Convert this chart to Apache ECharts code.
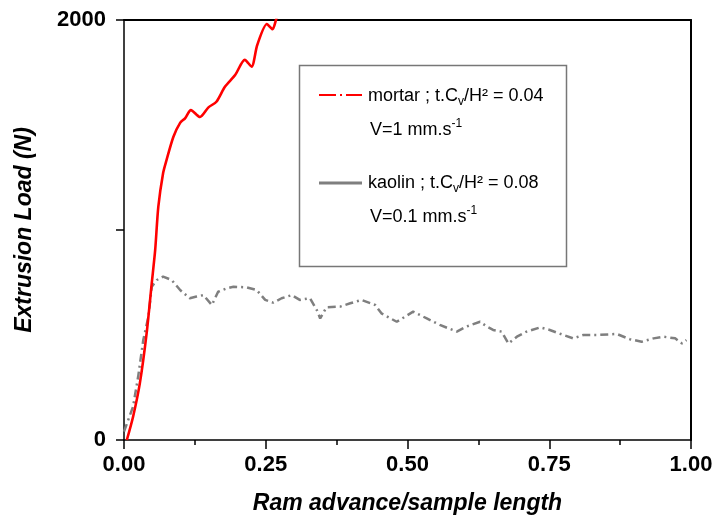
<!DOCTYPE html>
<html>
<head>
<meta charset="utf-8">
<script src="https://cdn.jsdelivr.net/npm/echarts@6/dist/echarts.min.js"></script>
<style>
  html, body { margin: 0; padding: 0; background: #fff; }
  #chart { width: 722px; height: 520px; }
</style>
</head>
<body>
<div id="chart"></div>
<script>
// mortar, t.Cv/H² = 0.04, V = 1 mm/s
const mortarX = [0.005, 0.016, 0.028, 0.040, 0.049, 0.055, 0.0605, 0.069, 0.075, 0.087, 0.099, 0.108, 0.118,
  0.134, 0.149, 0.163, 0.178, 0.196, 0.213, 0.225, 0.235, 0.252, 0.262, 0.268, 0.272]
const mortarY = [0, 111, 271, 510, 748, 905, 1110, 1271, 1333, 1443, 1510, 1533, 1571,
  1538, 1584, 1611, 1682, 1738, 1810, 1778, 1881, 1981, 1956, 2000, 2040]

// kaolin, t.Cv/H² = 0.08, V = 0.1 mm/s
const kaolinX = [0, 0.016, 0.025, 0.034, 0.043, 0.049, 0.058, 0.069, 0.084, 0.099, 0.116, 0.128, 0.140, 0.155,
  0.166, 0.181, 0.193, 0.216, 0.234, 0.249, 0.263, 0.278, 0.296, 0.310, 0.328, 0.340, 0.346, 0.357, 0.381,
  0.399, 0.419, 0.443, 0.454, 0.481, 0.510, 0.534, 0.557, 0.587, 0.604, 0.628, 0.640, 0.651, 0.666, 0.678,
  0.693, 0.710, 0.734, 0.751, 0.775, 0.792, 0.810, 0.834, 0.869, 0.892, 0.913, 0.934, 0.951, 0.972, 0.984, 0.992]
const kaolinY = [40, 159, 302, 476, 587, 730, 762, 778, 762, 714, 675, 683, 690, 643,
  706, 722, 730, 727, 714, 667, 654, 675, 690, 667, 675, 619, 579, 632, 635,
  651, 667, 643, 603, 563, 611, 579, 548, 516, 540, 563, 540, 524, 516, 460,
  492, 516, 536, 524, 500, 484, 500, 500, 505, 480, 468, 484, 492, 484, 460, 476]

const xTicks = [0, 0.25, 0.5, 0.75, 1]
const yLabelled = [0, 2000]

const FONT = "'Liberation Sans', Arial, sans-serif"

const chart = echarts.init(document.getElementById("chart"), null, { renderer: "canvas" })

const zip = (xs, ys) => xs.map((x, i) => [x, ys[i]])

const legendRich = {
  n: { fontSize: 18, fontFamily: FONT, color: "#000", lineHeight: 24 },
  sub: { fontSize: 12, fontFamily: FONT, color: "#000", verticalAlign: "bottom", lineHeight: 12 },
  sup: { fontSize: 12, fontFamily: FONT, color: "#000", verticalAlign: "top", lineHeight: 12 },
}

function legendText(x, y, text) {
  return {
    type: "text", x, y, z: 100,
    style: { text, rich: legendRich, verticalAlign: "middle", align: "left", fill: "#000", font: "18px " + FONT },
  }
}

const option = {
  animation: false,
  backgroundColor: "#fff",
  grid: { left: 124, right: 31, top: 20, bottom: 80, containLabel: false },
  xAxis: [
    {
      type: "value", min: xTicks[0], max: xTicks[xTicks.length - 1], interval: 0.25,
      name: "Ram advance/sample length", nameLocation: "middle", nameGap: 52,
      nameTextStyle: { fontFamily: FONT, fontSize: 23, fontWeight: "bold", fontStyle: "italic", color: "#000" },
      axisLine: { show: true, onZero: false, lineStyle: { color: "#000", width: 1.5 } },
      axisTick: { show: true, inside: false, length: 9, lineStyle: { color: "#000", width: 1.5 } },
      minorTick: { show: true, splitNumber: 2, length: 5, lineStyle: { color: "#000", width: 1.5 } },
      axisLabel: { formatter: v => v.toFixed(2), fontFamily: FONT, fontSize: 22, fontWeight: "bold", color: "#000", margin: 14 },
      splitLine: { show: false },
    },
    {
      type: "value", position: "top", min: 0, max: 1,
      axisLine: { show: true, onZero: false, lineStyle: { color: "#000", width: 2 } },
      axisTick: { show: false }, axisLabel: { show: false }, splitLine: { show: false },
    },
  ],
  yAxis: [
    {
      type: "value", min: 0, max: 2000, interval: 1000,
      name: "Extrusion Load (N)", nameLocation: "middle", nameGap: 88,
      nameTextStyle: { fontFamily: FONT, fontSize: 23, fontWeight: "bold", fontStyle: "italic", color: "#000" },
      axisLine: { show: true, onZero: false, lineStyle: { color: "#000", width: 1.5 } },
      axisTick: { show: true, inside: false, length: 8, lineStyle: { color: "#000", width: 1.5 } },
      axisLabel: {
        formatter: v => (yLabelled.includes(v) ? String(v) : ""),
        fontFamily: FONT, fontSize: 22, fontWeight: "bold", color: "#000", margin: 18,
      },
      splitLine: { show: false },
    },
    {
      type: "value", position: "right", min: 0, max: 2000,
      axisLine: { show: true, onZero: false, lineStyle: { color: "#000", width: 2 } },
      axisTick: { show: false }, axisLabel: { show: false }, splitLine: { show: false },
    },
  ],
  series: [
    {
      name: "kaolin", type: "line", data: zip(kaolinX, kaolinY),
      symbol: "none", clip: true, z: 2,
      lineStyle: { color: "#7f7f7f", width: 2.5, type: [8, 4, 2, 4] },
    },
    {
      name: "mortar", type: "line", data: zip(mortarX, mortarY),
      symbol: "none", smooth: 0.25, clip: true, z: 3,
      lineStyle: { color: "#ff0000", width: 2.6 },
    },
  ],
  graphic: [
    {
      type: "rect", z: 90,
      shape: { x: 299.5, y: 65.5, width: 267, height: 201 },
      style: { fill: "#fff", stroke: "#777", lineWidth: 1.5 },
    },
    {
      type: "line", z: 100,
      shape: { x1: 319, y1: 95, x2: 362, y2: 95 },
      style: { stroke: "#ff0000", lineWidth: 2, lineDash: [17, 4, 2, 4] },
    },
    legendText(368, 96, "{n|mortar ; t.C}{sub|v}{n|/H² = 0.04}"),
    legendText(370, 130, "{n|V=1 mm.s}{sup|-1}"),
    {
      type: "line", z: 100,
      shape: { x1: 319, y1: 183, x2: 362, y2: 183 },
      style: { stroke: "#7f7f7f", lineWidth: 3 },
    },
    legendText(368, 183, "{n|kaolin ; t.C}{sub|v}{n|/H² = 0.08}"),
    legendText(370, 217, "{n|V=0.1 mm.s}{sup|-1}"),
  ],
}

chart.setOption(option)
</script>
</body>
</html>
